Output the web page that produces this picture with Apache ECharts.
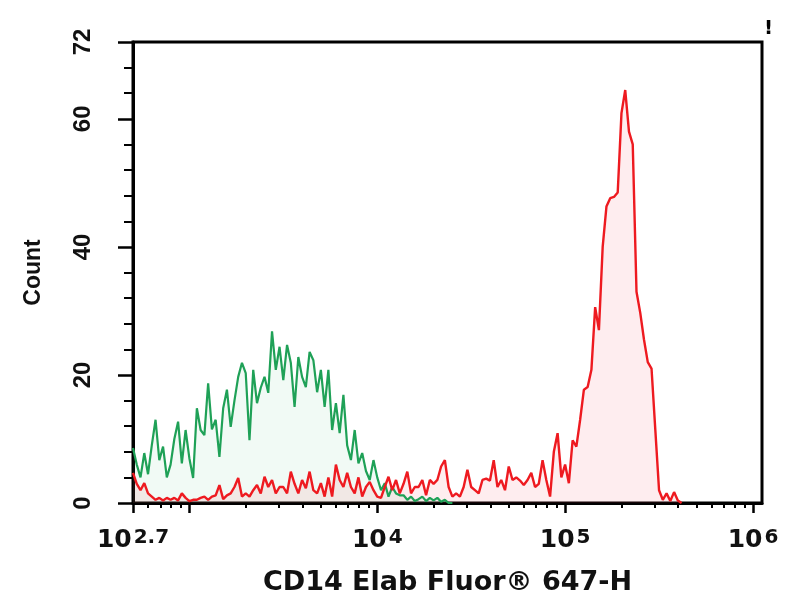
<!DOCTYPE html>
<html>
<head>
<meta charset="utf-8">
<script src="https://cdn.jsdelivr.net/npm/echarts@6/dist/echarts.min.js"></script>
<style>html,body{margin:0;padding:0;background:#fff}#c{width:804px;height:600px}</style>
</head>
<body>
<div id="c"></div>
<script>
// Histogram channels: log10 fluorescence, first channel and channel width (decades)
const channelStart = 2.70;
const channelWidth = 0.02;

// Green (control) counts per channel
const greenCounts = [8.6,6,4,7.8,4.5,9,13,6.7,8.8,4,6,10,12.7,6.2,11.4,7,3.9,14.8,11.4,10.6,
  18.7,11.5,13,7.2,14.8,17.7,11.9,16,19.7,21.9,20.3,9.8,20.8,15.6,18,19.7,17.2,26.8,20.8,24.4,
  19.2,24.7,21.9,15,22.8,19.7,18.1,23.6,22.3,17.3,20.8,15,20.8,11.4,15.6,10.9,16.9,9,6.7,11.4,
  6.2,7.8,5,3.6,6.7,4,2,3.1,1,2.5,1.5,1.2,1.2,0.5,1,0.3,0.6,1,0.3,0.8,0.4,0.8,0.2,0.5,0,0];

// Red (CD14 stained) counts per channel
const redCounts = [4.7,3,2,3.1,1.5,1,0.5,0.8,0.4,0.8,0.5,0.8,0.4,1.5,0.8,0.3,0.5,0.5,0.8,1,
  0.5,1,1.2,2.8,0.6,1.2,1.5,2.5,3.9,1,1.5,1,2,2.8,1.5,4.1,2.5,3.6,1.5,2.5,
  2.5,1.5,4.9,3,1.5,3.6,2.3,4.9,2,1.5,3.1,1,4,1,6,3.6,2.5,4.7,2.5,1.5,
  4,1,2.5,3.3,2,1,0.8,2.5,4.1,2,3.6,1.5,3,4.9,1.5,2.5,2.5,3.6,1.2,3.6,
  3,3.6,5.7,6.7,2.5,1,1.5,1,2.5,5.2,2.5,2,1.5,3.6,3.8,3.5,6.7,2.5,3.6,2,
  5.7,3.6,4,3.5,2.8,3.6,4.7,2.5,3,6.7,3.6,1,8,10.9,4,6,3.1,9.8,8.8,13,
  17.7,18.1,20.8,30.6,27,40,46.3,47.6,47.8,48.5,60.9,64.5,58,56,33,29.7,25.5,22,21,11.5,
  2,0.5,1.5,0.3,1.7,0.4,0];

// Axis ticks
const xMin = 2.7, xMax = 6.048;
const xMajorTicks = [2.7, 3, 4, 5, 6];
const xLabelTicks = [2.7, 4, 5, 6];
const xLabelExponents = ['2.7', '4', '5', '6'];
const xMinorTickValues = [600,700,800,900,2000,3000,4000,5000,6000,7000,8000,9000,
  20000,30000,40000,50000,60000,70000,80000,90000,
  200000,300000,400000,500000,600000,700000,800000,900000];
const yMin = 0, yMax = 72;
const yMajorTicks = [0, 20, 40, 60, 72];
const yMinorTicks = [4,8,12,16,24,28,32,36,44,48,52,56,64,68];

const xAxisTitle = 'CD14 Elab Fluor® 647-H';
const yAxisTitle = 'Count';

const toSeries = counts => counts.map((c, i) => [channelStart + i * channelWidth, c]);

const chart = echarts.init(document.getElementById('c'), null, {renderer: 'canvas'});
const black = '#000';
chart.setOption({
  animation: false,
  backgroundColor: '#fff',
  title: {text: '!', left: 759, top: 14, textStyle: {fontSize: 20, fontWeight: 'bold', color: black, fontFamily: 'DejaVu Sans'}},
  grid: {left: 133, right: 42, top: 42, bottom: 97, show: true, borderColor: black, borderWidth: 3, outerBoundsMode: 'none'},
  xAxis: [{
    type: 'value', min: xMin, max: xMax,
    axisLine: {show: true, lineStyle: {color: black, width: 3}},
    axisTick: {show: true, customValues: xMajorTicks, length: 10, lineStyle: {color: black, width: 2.5}},
    axisLabel: {
      customValues: xLabelTicks, margin: 25, color: '#111',
      formatter: v => {
        let k = 0, d = Infinity;
        xLabelTicks.forEach((t, i) => { if (Math.abs(t - v) < d) { d = Math.abs(t - v); k = i; } });
        return '{a|10}{b|' + xLabelExponents[k] + '}';
      },
      rich: {
        a: {fontSize: 25, fontWeight: 'bold', fontFamily: 'DejaVu Sans', lineHeight: 25, verticalAlign: 'bottom', color: '#111'},
        b: {fontSize: 20, fontWeight: 'bold', fontFamily: 'DejaVu Sans', lineHeight: 12, verticalAlign: 'top', color: '#111', padding: [0, 0, 0, 2]}
      }
    },
    splitLine: {show: false},
    name: xAxisTitle, nameLocation: 'middle', nameGap: 66,
    nameTextStyle: {fontSize: 27, fontWeight: 'bold', fontFamily: 'DejaVu Sans', color: '#111'}
  }, {
    type: 'value', min: xMin, max: xMax, position: 'bottom',
    axisLine: {show: false},
    axisTick: {show: true, customValues: xMinorTickValues.map(Math.log10), length: 5, lineStyle: {color: black, width: 2}},
    axisLabel: {show: false},
    splitLine: {show: false}
  }],
  yAxis: [{
    type: 'value', min: yMin, max: yMax,
    axisLine: {show: true, lineStyle: {color: black, width: 3}},
    axisTick: {show: true, customValues: yMajorTicks, length: 15, lineStyle: {color: black, width: 2.5}},
    axisLabel: {customValues: yMajorTicks, rotate: 90, margin: 38, fontSize: 24, fontWeight: 'bold', fontFamily: 'Liberation Sans', color: '#111'},
    splitLine: {show: false},
    name: yAxisTitle, nameLocation: 'middle', nameGap: 88, nameRotate: 90,
    nameTextStyle: {fontSize: 23, fontWeight: 'bold', fontFamily: 'Liberation Sans', color: '#111'}
  }, {
    type: 'value', min: yMin, max: yMax, position: 'left',
    axisLine: {show: false},
    axisTick: {show: true, customValues: yMinorTicks, length: 9, lineStyle: {color: black, width: 2}},
    axisLabel: {show: false},
    splitLine: {show: false}
  }],
  series: [{
    name: 'Control', type: 'line', xAxisIndex: 0, yAxisIndex: 0,
    data: toSeries(greenCounts), showSymbol: false, symbol: 'none',
    lineStyle: {color: '#1fa157', width: 2.2},
    areaStyle: {color: 'rgba(60,180,110,0.10)'}
  }, {
    name: 'CD14', type: 'line', xAxisIndex: 0, yAxisIndex: 0,
    data: toSeries(redCounts), showSymbol: false, symbol: 'none',
    lineStyle: {color: '#ee1a20', width: 2.4},
    areaStyle: {color: 'rgba(245,60,80,0.13)'}
  }]
});
</script>
</body>
</html>
